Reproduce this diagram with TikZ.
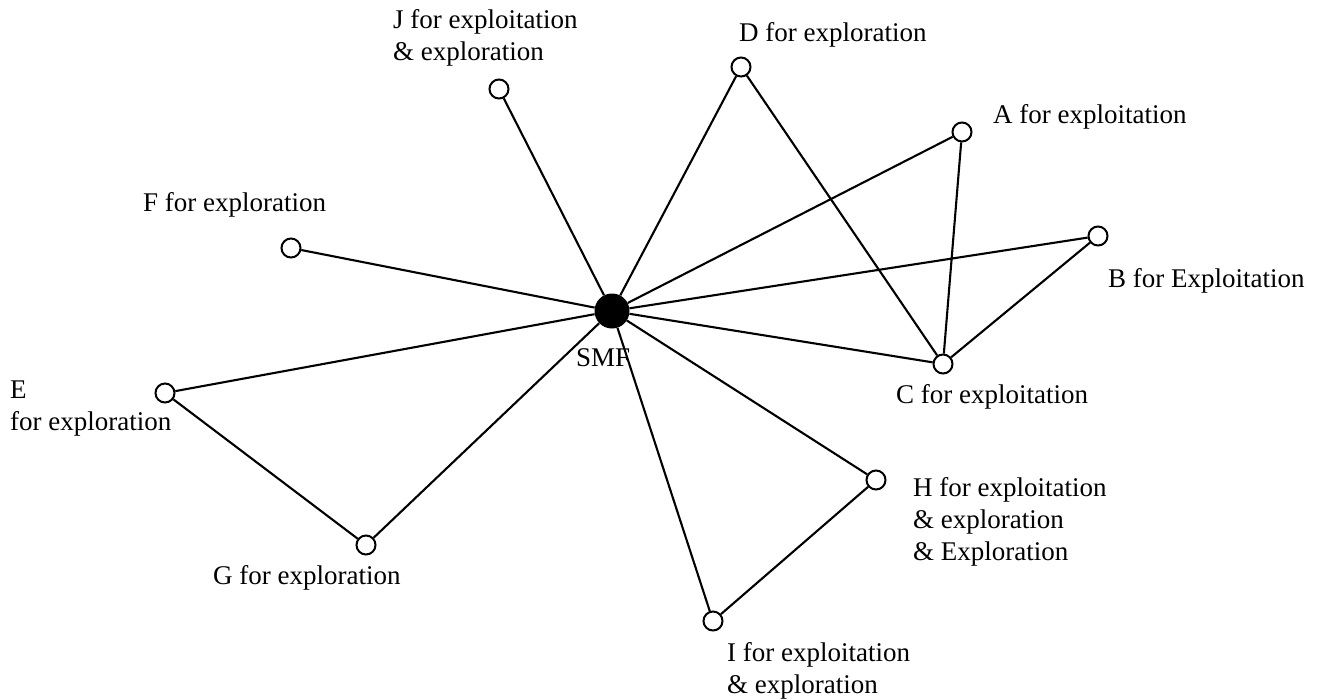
\documentclass[tikz,border=0pt]{standalone}
\usepackage{fontspec}
\setmainfont{Liberation Serif}
\usetikzlibrary{positioning}
\tikzset{
	vtx/.style={circle,draw,line width=2pt,fill=white,inner sep=0pt,minimum size=19pt},
	hub/.style={circle,fill=black,inner sep=0pt,minimum size=35pt},
	lbl/.style={anchor=west,align=left,inner sep=0pt,font=\fontsize{27}{32}\selectfont},
	edge/.style={line width=2.1pt}
}
\begin{document}
\begin{tikzpicture}[x=1pt,y=-1pt]
	\useasboundingbox (0,0) rectangle (1320,699);
	\node[hub] (SMF) at (612,311) {};
	\node[vtx] (J) at (499,89) {};
	\node[vtx] (D) at (741,67) {};
	\node[vtx] (A) at (962,132) {};
	\node[vtx] (B) at (1098,236) {};
	\node[vtx] (C) at (943,364) {};
	\node[vtx] (F) at (291,248) {};
	\node[vtx] (E) at (165,393) {};
	\node[vtx] (G) at (366,545) {};
	\node[vtx] (H) at (876,480) {};
	\node[vtx] (I) at (713,621) {};
	
	\foreach \v in {J,D,A,B,C,F,E,G,H,I}{
		\draw[edge] (SMF) -- (\v);
	}
	\draw[edge] (D) -- (C) (A) -- (C) (B) -- (C);
	\draw[edge] (E) -- (G) (H) -- (I);
	
	\node[lbl] (lSMF) at (576,358) {SMF};
	\node[lbl] (lJ) at (393,38) {J for exploitation\\\& exploration};
	\node[lbl] (lD) at (739,35) {D for exploration};
	\node[lbl] (lA) at (993,117) {A for exploitation};
	\node[lbl] (lB) at (1108,281) {B for Exploitation};
	\node[lbl] (lC) at (896,397) {C for exploitation};
	\node[lbl] (lF) at (143,205) {F for exploration};
	\node[lbl] (lE) at (10,409) {E\\for exploration};
	\node[lbl] (lG) at (213,578) {G for exploration};
	\node[lbl] (lH) at (913,522) {H for exploitation\\\& exploration\\\& Exploration};
	\node[lbl] (lI) at (727,671) {I for exploitation\\\& exploration};
\end{tikzpicture}
\end{document}
